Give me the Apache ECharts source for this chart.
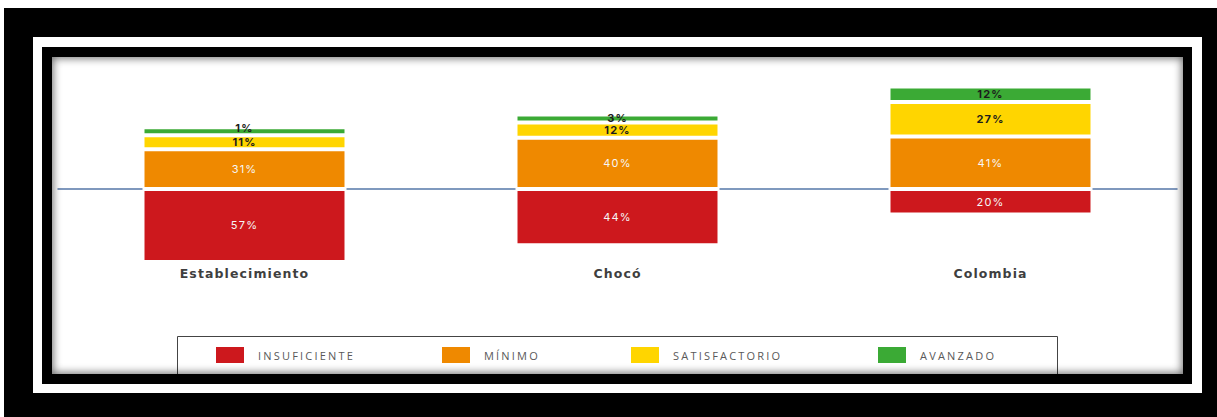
<!DOCTYPE html>
<html>
<head>
<meta charset="utf-8">
<script src="https://cdn.jsdelivr.net/npm/echarts@6/dist/echarts.min.js"></script>
<style>
  html, body { margin: 0; padding: 0; background: #fff; width: 1217px; height: 417px; overflow: hidden; }
  .box { position: absolute; box-sizing: border-box; }
  #outer { left: 4px; top: 8px; width: 1213px; height: 409px; background: #000; }
  #mat { left: 33px; top: 37px; width: 1169px; height: 356px; background: #fff; }
  #rim { left: 42px; top: 47px; width: 1150px; height: 337px; background: #000; }
  #panel { left: 52px; top: 57px; width: 1131px; height: 317px; background: #fff; overflow: hidden; }
  #chart { position: absolute; left: 0; top: 0; width: 1131px; height: 317px; }
  #shade { position: absolute; left: 0; top: 0; right: 0; bottom: 0; pointer-events: none;
           box-shadow: inset 0 0 8px 1px rgba(0, 0, 0, 0.6); }
  /* wide tracking for the three text roles */
  #chart text[style*="Open Sans"] { letter-spacing: 2.2px; }
  #chart text[style*="Inter"] { letter-spacing: 1.2px; }
  #chart text[style*="DejaVu Sans"] { letter-spacing: 1.1px; }
</style>
</head>
<body>
<div class="box" id="outer"></div>
<div class="box" id="mat"></div>
<div class="box" id="rim"></div>
<div class="box" id="panel">
  <div id="chart"></div>
  <div id="shade"></div>
</div>
<script>
// Percentages per performance level
const categories = ['Establecimiento', 'Chocó', 'Colombia'];
const insuficiente = [57, 44, 20];
const minimo = [31, 40, 41];
const satisfactorio = [11, 12, 27];
const avanzado = [1, 3, 12];
const levelNames = ['INSUFICIENTE', 'MÍNIMO', 'SATISFACTORIO', 'AVANZADO'];

const palette = {
  insuficiente: '#cd181d',
  minimo: '#ef8900',
  satisfactorio: '#ffd500',
  avanzado: '#3baa35'
};

function levelSeries(name, values, color, labelColor, sign, weight) {
  return {
    name: name,
    type: 'bar',
    stack: 'nivel',
    xAxisIndex: 0,
    barWidth: 204,
    // keep very small segments visible under the white separators
    barMinHeight: 8,
    // a label on a sliver segment is nudged up so it clears the one below
    data: values.map(v => v < 2
      ? { value: sign * v, label: { offset: [0, -3] } }
      : sign * v),
    itemStyle: { color: color, borderColor: '#ffffff', borderWidth: 2 },
    label: {
      show: true,
      position: 'inside',
      formatter: p => Math.abs(p.value) + '%',
      color: labelColor,
      fontFamily: 'Inter',
      fontSize: 11,
      lineHeight: 10,
      fontWeight: weight
    },
    emphasis: { disabled: true }
  };
}

// legend item anchors (px from the panel's left edge)
const legendLeft = [164, 390, 579, 826];

const chart = echarts.init(document.getElementById('chart'), null, { renderer: 'svg' });
chart.setOption({
  animation: false,
  grid: { left: 6, right: 6, top: 16.8, bottom: 108.2 },
  xAxis: [
    {
      type: 'category',
      data: categories,
      position: 'bottom',
      axisLine: { show: false, onZero: false },
      axisTick: { show: false },
      axisLabel: {
        margin: 1,
        fontFamily: 'DejaVu Sans',
        fontWeight: 'bold',
        fontSize: 12.5,
        color: '#3f3f3f'
      }
    },
    {
      type: 'category',
      data: categories,
      position: 'top',
      axisLine: { show: true, onZero: true, lineStyle: { color: '#5577a8', width: 1.5 } },
      axisTick: { show: false },
      axisLabel: { show: false }
    }
  ],
  yAxis: { type: 'value', min: -60, max: 90, interval: 30, show: false },
  legend: levelNames.map((n, i) => ({
    data: [n],
    left: legendLeft[i],
    top: 290,
    padding: 0,
    icon: 'rect',
    itemWidth: 28,
    itemHeight: 16,
    selectedMode: false,
    itemStyle: { borderWidth: 0 },
    textStyle: { fontFamily: 'Open Sans', fontSize: 11, color: '#595959', padding: [0, 0, 0, 9] }
  })),
  graphic: {
    elements: [{
      type: 'rect',
      left: 125,
      top: 279,
      z: 0,
      shape: { x: 0, y: 0, width: 880, height: 60 },
      style: { fill: '#ffffff', stroke: '#444444', lineWidth: 1 }
    }]
  },
  series: [
    levelSeries(levelNames[0], insuficiente, palette.insuficiente, '#f6f6f6', -1, 'normal'),
    levelSeries(levelNames[1], minimo, palette.minimo, '#f6f6f6', 1, 'normal'),
    levelSeries(levelNames[2], satisfactorio, palette.satisfactorio, '#1c1c1c', 1, 'bold'),
    levelSeries(levelNames[3], avanzado, palette.avanzado, '#1c1c1c', 1, 'bold')
  ]
});
</script>
</body>
</html>
